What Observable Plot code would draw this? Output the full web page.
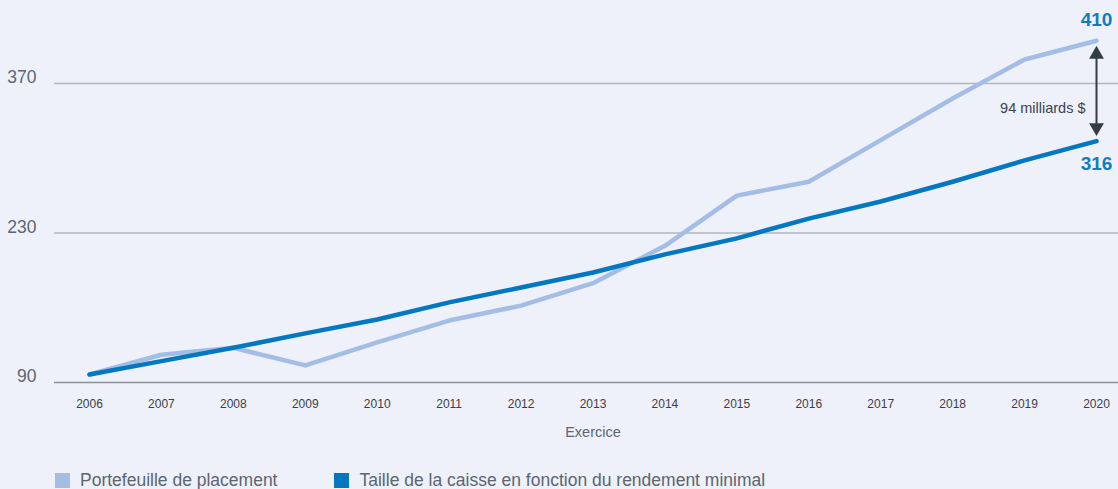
<!DOCTYPE html>
<html>
<head>
<meta charset="utf-8">
<script src="https://cdn.jsdelivr.net/npm/d3@7"></script>
<script src="https://cdn.jsdelivr.net/npm/@observablehq/plot@0.6"></script>
<style>
  html, body { margin: 0; padding: 0; background: #eef1fa; }
  body { width: 1118px; height: 489px; overflow: hidden; font-family: "Liberation Sans", Arial, Helvetica, sans-serif; }
  svg text { font-family: "Liberation Sans", Arial, Helvetica, sans-serif; }
  #legend { position: absolute; left: 55px; top: 470px; display: flex; align-items: center; font-size: 17.5px; color: #5d6571; }
  .item { display: flex; align-items: center; }
  .sw { width: 15px; height: 15px; margin-right: 10px; }
</style>
</head>
<body>
<div id="chart"></div>
<div id="legend"></div>
<script>
const years = [2006, 2007, 2008, 2009, 2010, 2011, 2012, 2013, 2014, 2015, 2016, 2017, 2018, 2019, 2020];
const portefeuille = [97.5, 116, 122.5, 106, 127.5, 148, 162, 183, 218, 265, 278, 317, 356, 392.5, 410];
const rendementMinimal = [97.5, 110, 122.5, 136, 149, 165, 179, 193, 210, 225, 243.5, 259.5, 278, 298, 316];
const seriesNames = ["Portefeuille de placement", "Taille de la caisse en fonction du rendement minimal"];
const seriesColors = ["#a4bde4", "#0477c1"];
const yTicks = [90, 230, 370];
const gapLabel = "94 milliards $";

const rows = [];
years.forEach((y, i) => {
  rows.push({year: y, value: portefeuille[i], series: seriesNames[0]});
  rows.push({year: y, value: rendementMinimal[i], series: seriesNames[1]});
});
const lastYear = years[years.length - 1];
const topVal = portefeuille[portefeuille.length - 1];
const botVal = rendementMinimal[rendementMinimal.length - 1];
const arrowTop = topVal - 9;
const arrowBot = botVal + 9;
const FONT = "'Liberation Sans', Arial, Helvetica, sans-serif";

const chart = Plot.plot({
  width: 1118,
  height: 460,
  marginLeft: 54,
  marginRight: 0,
  marginTop: 0,
  marginBottom: 78,
  style: {background: "transparent", fontFamily: FONT, overflow: "visible"},
  x: {type: "linear", domain: [2006, 2020], range: [89, 1096], label: null},
  y: {domain: [90, 370], range: [382, 83], label: null},
  marks: [
    Plot.ruleY(yTicks.slice(1), {stroke: "#b4b6be", strokeWidth: 1.5}),
    Plot.ruleY([yTicks[0]], {stroke: "#8c8f96", strokeWidth: 1.6}),
    Plot.axisY({ticks: yTicks, tickSize: 0, tickPadding: 18, fontSize: 17.5, fontFamily: FONT, color: "#5d6571", dy: -6, tickFormat: d => String(d), label: null}),
    Plot.axisX({ticks: years, tickSize: 0, tickPadding: 17, fontSize: 12, fontFamily: FONT, color: "#3a4049", tickFormat: d => String(d), label: null}),
    Plot.text(["Exercice"], {x: 2013, y: 90, dy: 50, fontSize: 14.5, fontFamily: FONT, fill: "#5d6571"}),
    Plot.line(rows.filter(d => d.series === seriesNames[0]), {x: "year", y: "value", stroke: seriesColors[0], strokeWidth: 4.5, strokeLinecap: "round", strokeLinejoin: "round"}),
    Plot.line(rows.filter(d => d.series === seriesNames[1]), {x: "year", y: "value", stroke: seriesColors[1], strokeWidth: 4.5, strokeLinecap: "round", strokeLinejoin: "round"}),
    Plot.link([{x: lastYear, y1: arrowTop - 6, y2: arrowBot + 6}], {x1: "x", x2: "x", y1: "y1", y2: "y2", stroke: "#343d46", strokeWidth: 2}),
    Plot.dot([{x: lastYear, y: arrowTop}], {x: "x", y: "y", symbol: "triangle", r: 5.5, fill: "#343d46", dy: 4}),
    Plot.dot([{x: lastYear, y: arrowBot}], {x: "x", y: "y", symbol: "triangle", r: 5.5, fill: "#343d46", rotate: 180, dy: -4}),
    Plot.text([{x: lastYear, y: (arrowTop + arrowBot) / 2}], {x: "x", y: "y", text: () => gapLabel, textAnchor: "end", dx: -11, dy: 17, fontSize: 14.5, fontFamily: FONT, fill: "#3a434c"}),
    Plot.text([{x: lastYear, y: topVal}], {x: "x", y: "y", text: d => String(d.y), dy: -21, fontSize: 19, fontFamily: FONT, fontWeight: "bold", fill: "#0f7dc2"}),
    Plot.text([{x: lastYear, y: botVal}], {x: "x", y: "y", text: d => String(d.y), dy: 23, fontSize: 19, fontFamily: FONT, fontWeight: "bold", fill: "#0f7dc2"})
  ]
});
document.getElementById("chart").appendChild(chart);

const legend = document.getElementById("legend");
seriesNames.forEach((name, i) => {
  const item = document.createElement("div");
  item.className = "item";
  if (i > 0) item.style.marginLeft = "57px";
  const sw = document.createElement("div");
  sw.className = "sw";
  sw.style.background = seriesColors[i];
  const t = document.createElement("span");
  t.textContent = name;
  item.appendChild(sw);
  item.appendChild(t);
  legend.appendChild(item);
});
</script>
</body>
</html>
